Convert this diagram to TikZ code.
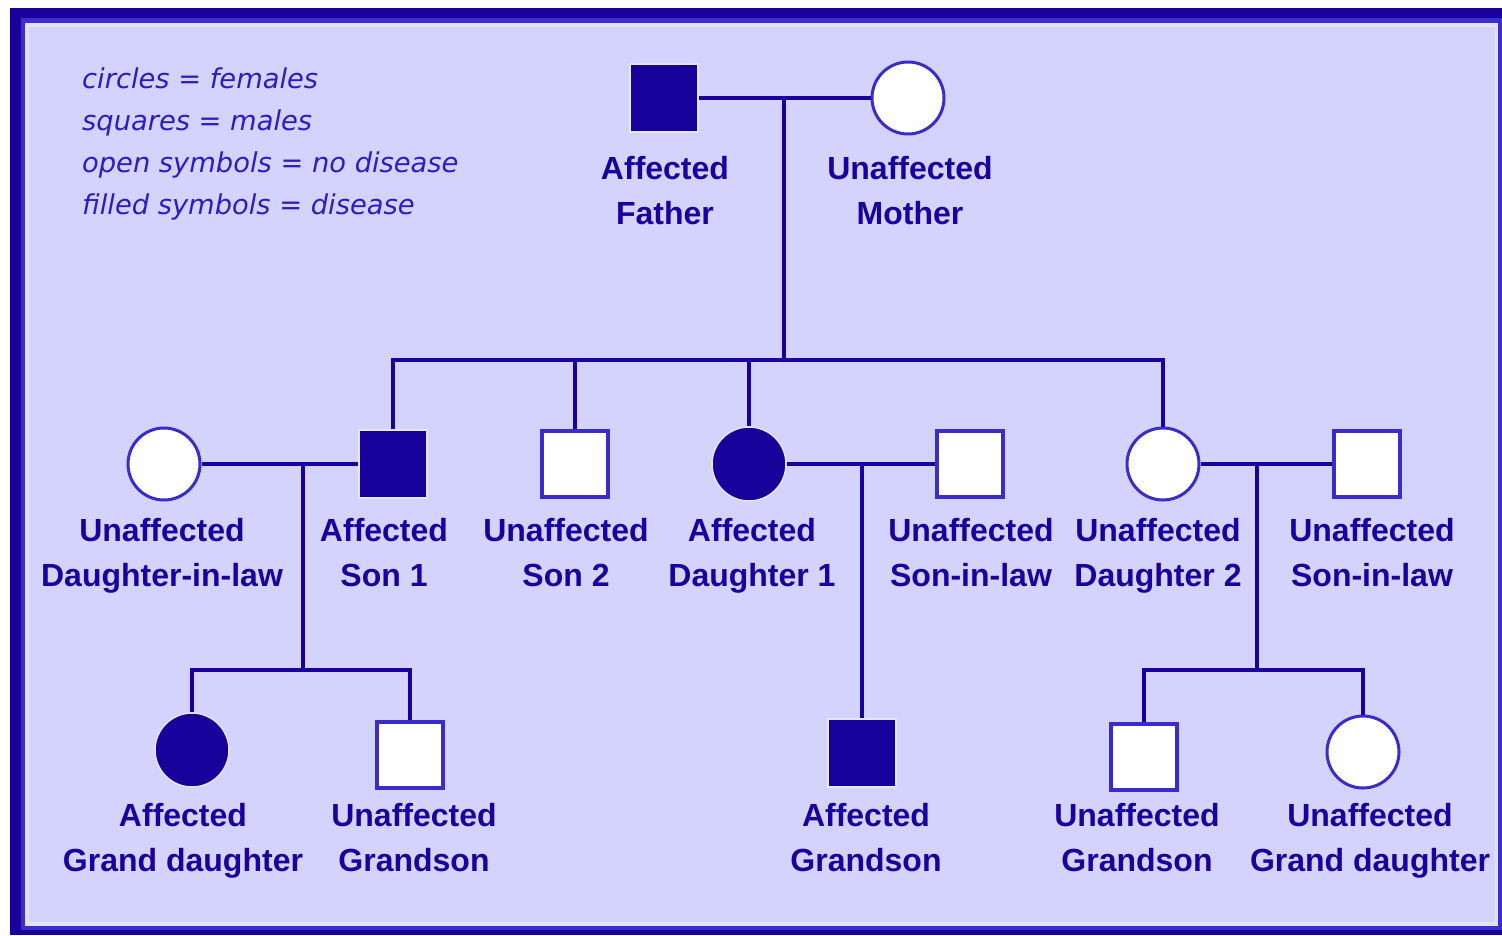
\documentclass[tikz,border=0pt]{standalone}
\usepackage{fontspec}
\newfontfamily\labelfont{Liberation Sans}
\newfontfamily\legendfont{DejaVu Sans}
\definecolor{frameDark}{HTML}{18009B}
\definecolor{frameMid}{HTML}{3C2ECC}
\definecolor{frameLight}{HTML}{E2E2FF}
\definecolor{paper}{HTML}{D3D3FE}
\definecolor{ink}{HTML}{1A009C}
\definecolor{openBlue}{HTML}{3A2CCB}
\definecolor{legendBlue}{HTML}{2C1CC2}
\tikzset{
  link/.style={draw=ink, line width=4.5pt},
  male/.style={rectangle, minimum size=66pt, inner sep=0pt, draw=openBlue, line width=4pt, fill=white},
  female/.style={circle, minimum size=72pt, inner sep=0pt, draw=openBlue, line width=3pt, fill=white},
  affmale/.style={rectangle, minimum size=68pt, inner sep=0pt, fill=frameDark, draw=white!40!paper, line width=1.5pt},
  afffemale/.style={circle, minimum size=74pt, inner sep=0pt, fill=frameDark, draw=white!40!paper, line width=1.5pt},
  person/.style={anchor=north, inner sep=0pt, align=center, text=ink,
    font=\labelfont\bfseries\fontsize{32}{45}\selectfont},
  legend/.style={anchor=north west, inner sep=0pt, align=left, text=legendBlue,
    font=\legendfont\itshape\fontsize{27.3}{42}\selectfont}
}
\begin{document}
\begin{tikzpicture}[x=1pt, y=-1pt]
  \useasboundingbox (0,0) rectangle (1502,935);
  % framed panel
  \fill[frameDark] (10,8) rectangle (1502,935);
  \fill[frameMid] (21,18) rectangle (1502,930);
  \fill[frameLight] (25,23) rectangle (1498,926);
  \fill[paper] (29,27) rectangle (1495,922);

  % key
  \node[legend] (key) at (82,68) {circles = females\\squares = males\\open symbols = no disease\\filled symbols = disease};

  % junction points
  \coordinate (j0) at (784,98);
  \coordinate (s0) at (784,360);
  \coordinate (j1) at (303,464);
  \coordinate (k1) at (303,670);
  \coordinate (j2) at (862,464);
  \coordinate (j3) at (1257,464);
  \coordinate (k3) at (1257,670);

  % generation I
  \node[affmale] (father) at (664,98) {};
  \node[female] (mother) at (908,98) {};
  % generation II
  \node[female] (dil) at (164,464) {};
  \node[affmale] (son1) at (393,464) {};
  \node[male] (son2) at (575,464) {};
  \node[afffemale] (dau1) at (749,464) {};
  \node[male] (sil1) at (970,464) {};
  \node[female] (dau2) at (1163,464) {};
  \node[male] (sil2) at (1367,464) {};
  % generation III
  \node[afffemale] (gdau1) at (192,750) {};
  \node[male] (gson1) at (410,755) {};
  \node[affmale] (gson2) at (862,753) {};
  \node[male] (gson3) at (1144,757) {};
  \node[female] (gdau3) at (1363,752) {};

  % connectors between symbols
  \draw[link] (father.east) -- (mother.west);
  \draw[link] (j0) -- (s0);
  \draw[link] (son1.north) |- (s0) -| (dau2.north);
  \draw[link] (son2.north) -- (son2.north |- s0);
  \draw[link] (dau1.north) -- (dau1.north |- s0);
  \draw[link] (dil.east) -- (son1.west);
  \draw[link] (j1) -- (k1);
  \draw[link] (gdau1.north) |- (k1) -| (gson1.north);
  \draw[link] (dau1.east) -- (sil1.west);
  \draw[link] (j2) -- (gson2.north);
  \draw[link] (dau2.east) -- (sil2.west);
  \draw[link] (j3) -- (k3);
  \draw[link] (gson3.north) |- (k3) -| (gdau3.north);

  % labels
  \node[person] (lfather) at (665,156) {Affected\\Father};
  \node[person] (lmother) at (910,156) {Unaffected\\Mother};
  \node[person] (ldil) at (162,518) {Unaffected\\Daughter-in-law};
  \node[person] (lson1) at (384,518) {Affected\\Son 1};
  \node[person] (lson2) at (566,518) {Unaffected\\Son 2};
  \node[person] (ldau1) at (752,518) {Affected\\Daughter 1};
  \node[person] (lsil1) at (971,518) {Unaffected\\Son-in-law};
  \node[person] (ldau2) at (1158,518) {Unaffected\\Daughter 2};
  \node[person] (lsil2) at (1372,518) {Unaffected\\Son-in-law};
  \node[person] (lgdau1) at (183,803) {Affected\\Grand daughter};
  \node[person] (lgson1) at (414,803) {Unaffected\\Grandson};
  \node[person] (lgson2) at (866,803) {Affected\\Grandson};
  \node[person] (lgson3) at (1137,803) {Unaffected\\Grandson};
  \node[person] (lgdau3) at (1370,803) {Unaffected\\Grand daughter};
\end{tikzpicture}
\end{document}
